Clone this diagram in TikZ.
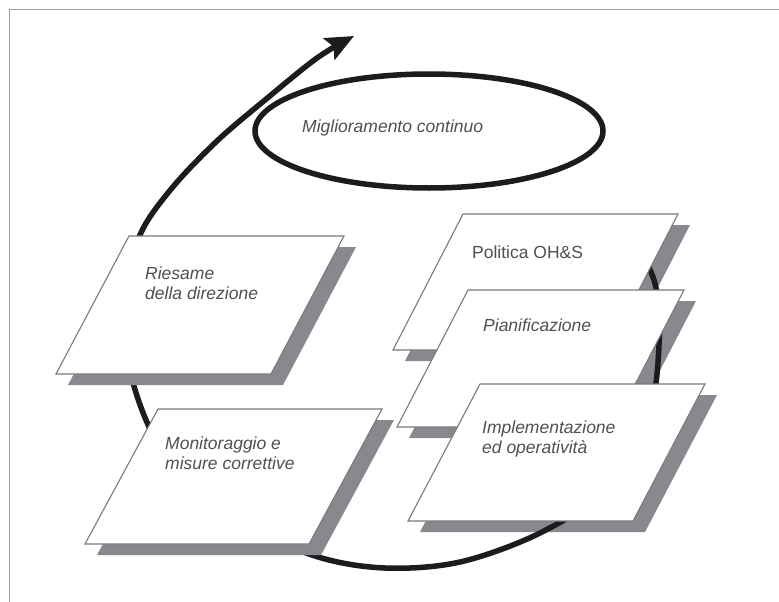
\documentclass[tikz,border=0pt]{standalone}
\usepackage{fontspec}
\setmainfont{Liberation Sans}
\usetikzlibrary{arrows.meta}
\definecolor{shadowc}{HTML}{88888F}
\definecolor{edgec}{HTML}{7A7A7A}
\definecolor{txtc}{HTML}{505050}
\definecolor{arcc}{HTML}{1C1C1E}
\definecolor{framec}{HTML}{A0A0A0}
% #1,#2 top-left corner; #3 width; #4 height; #5 horizontal shift of the bottom edge
\newcommand\myshadow[5]{\fill[shadowc] ({#1+12},{#2+11}) -- ++(#3,0) -- ++(#5,#4) -- ++(-#3,0) -- cycle;}
\newcommand\mypanel[5]{\filldraw[fill=white,draw=edgec,line width=1.1pt,line join=miter] (#1,#2) -- ++(#3,0) -- ++(#5,#4) -- ++(-#3,0) -- cycle;}
\tikzset{
  lbl/.style={text=txtc, font=\fontsize{17.5}{20}\selectfont\itshape, inner sep=0pt, align=left, anchor=west},
  loopline/.style={arcc, line width=5.5pt},
}
\begin{document}
\begin{tikzpicture}[x=1pt,y=-1pt]
\useasboundingbox (0,0) rectangle (779,602);
\fill[white] (0,0) rectangle (779,602);
% frame
\draw[framec, line width=1pt] (9,602) -- (9,10) -- (779,10);
% shadows of the right-hand panels (below the loop)
\myshadow{463}{214}{215}{136}{-70}
\myshadow{468}{290}{216}{137}{-71}
\myshadow{480}{384}{225}{137}{-72}
% the loop
\coordinate (tip) at (354,36);
\draw[loopline, -{Stealth[length=28pt,width=24pt,inset=5pt]}] plot[smooth, tension=0.55] coordinates {
 (622,222) (654,280) (659,345) (648,420) (608,488) (540,533) (460,562) (385,568)
 (315,556) (235,520) (175,470) (146,420) (128,360) (127,295) (140,235) (172,188)
 (217,141) (265,100) (317,58) (tip)};
% ellipse
\draw[loopline] (429,131) ellipse [x radius=174, y radius=57];
% shadows of the left-hand panels (above the loop)
\myshadow{129}{236}{215}{138}{-73}
\myshadow{158}{409}{224}{135}{-73}
% panels
\mypanel{129}{236}{215}{138}{-73}
\mypanel{158}{409}{224}{135}{-73}
\mypanel{463}{214}{215}{136}{-70}
\mypanel{468}{290}{216}{137}{-71}
\mypanel{480}{384}{225}{137}{-72}
% texts
\node[lbl] (mig) at (302,128) {Miglioramento continuo};
\node[lbl] (ries) at (145,283) {Riesame\\della direzione};
\node[lbl] (mon) at (165,453) {Monitoraggio e\\misure correttive};
\node[lbl, font=\fontsize{17.5}{20}\selectfont\upshape] (pol) at (472,252) {Politica OH\&S};
\node[lbl] (pian) at (483,325) {Pianificazione};
\node[lbl] (impl) at (482,439) {Implementazione\\ed operatività};
\end{tikzpicture}
\end{document}
